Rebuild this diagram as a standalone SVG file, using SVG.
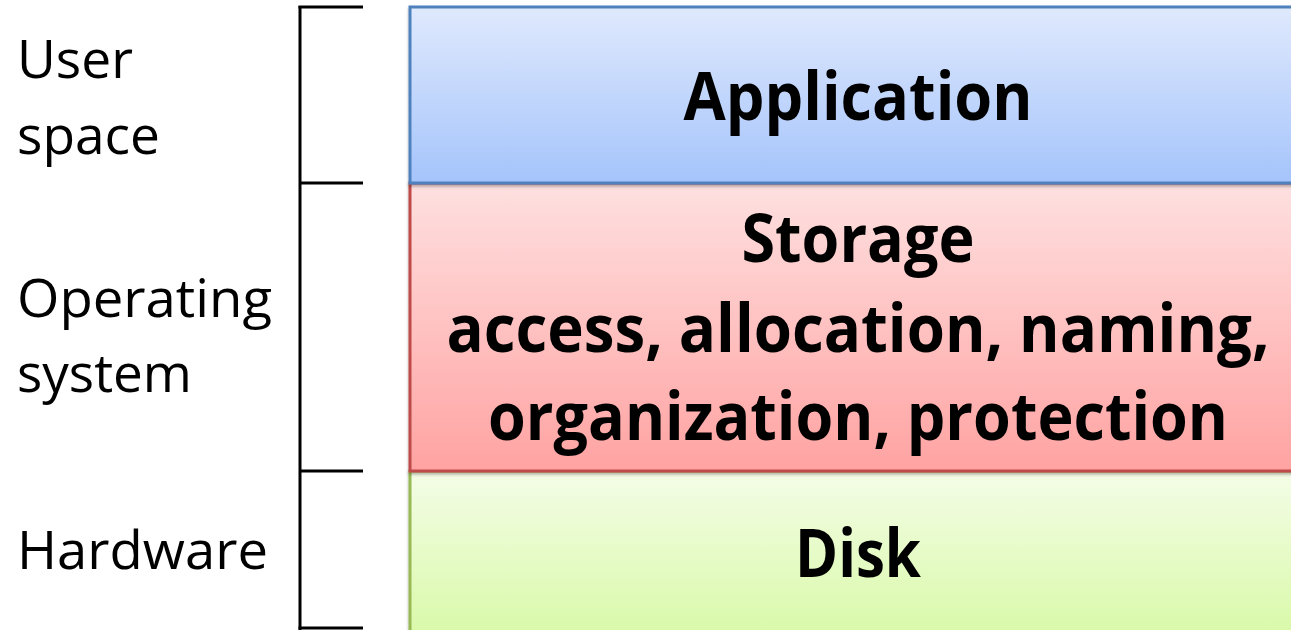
<svg xmlns="http://www.w3.org/2000/svg" width="1291" height="630" viewBox="0 0 1291 630">
  <style>
    .side { font-family: "Open Sans", "Noto Sans", sans-serif; font-size: 53px; fill: #000; }
    .title { font-family: "Open Sans", "Noto Sans", sans-serif; font-weight: bold; font-size: 66px; fill: #000; text-anchor: middle; }
    .bracket { stroke: #000; stroke-width: 3; fill: none; }
    .layer { stroke-width: 3; }
  </style>
  <defs>
    <linearGradient id="gBlue" x1="0" y1="0" x2="0" y2="1">
      <stop offset="0" stop-color="#dfe9fd"/>
      <stop offset="1" stop-color="#a5c4fb"/>
    </linearGradient>
    <linearGradient id="gRed" x1="0" y1="0" x2="0" y2="1">
      <stop offset="0" stop-color="#fee0e0"/>
      <stop offset="1" stop-color="#ffa3a2"/>
    </linearGradient>
    <linearGradient id="gGreen" x1="0" y1="0" x2="0" y2="1">
      <stop offset="0" stop-color="#f4fde7"/>
      <stop offset="1" stop-color="#d8f9a6"/>
    </linearGradient>
    <filter id="shadow" x="-5%" y="-5%" width="110%" height="115%">
      <feDropShadow dx="0" dy="2" stdDeviation="1.5" flood-color="#000" flood-opacity="0.3"/>
    </filter>
  </defs>

  <!-- side labels -->
  <g id="label-user">
    <text class="side" x="17" y="78" textLength="116" lengthAdjust="spacingAndGlyphs">User</text>
    <text class="side" x="17" y="154" textLength="143" lengthAdjust="spacingAndGlyphs">space</text>
  </g>
  <g id="label-os">
    <text class="side" x="17" y="317" textLength="255" lengthAdjust="spacingAndGlyphs">Operating</text>
    <text class="side" x="17" y="392" textLength="175" lengthAdjust="spacingAndGlyphs">system</text>
  </g>
  <g id="label-hw">
    <text class="side" x="17" y="569" textLength="251" lengthAdjust="spacingAndGlyphs">Hardware</text>
  </g>

  <!-- bracket separating the levels -->
  <g id="connectors">
    <path class="bracket" d="M300,6 V630"/>
    <path class="bracket" d="M298.5,7 H363"/>
    <path class="bracket" d="M300,183 H363"/>
    <path class="bracket" d="M300,471 H363"/>
    <path class="bracket" d="M298.5,628 H363"/>
  </g>

  <!-- layer stack -->
  <g id="layer-disk">
    <rect class="layer" x="410" y="471" width="900" height="170" fill="url(#gGreen)" stroke="#98b954" filter="url(#shadow)"/>
    <text class="title" x="858" y="577" textLength="126" lengthAdjust="spacingAndGlyphs">Disk</text>
  </g>
  <g id="layer-storage">
    <rect class="layer" x="410" y="183" width="900" height="288" fill="url(#gRed)" stroke="#be4b48" filter="url(#shadow)"/>
    <text class="title" x="858" y="262" textLength="233" lengthAdjust="spacingAndGlyphs">Storage</text>
    <text class="title" x="858" y="352" textLength="823" lengthAdjust="spacingAndGlyphs">access, allocation, naming,</text>
    <text class="title" x="858" y="440" textLength="740" lengthAdjust="spacingAndGlyphs">organization, protection</text>
  </g>
  <g id="layer-application">
    <rect class="layer" x="410" y="7" width="900" height="176" fill="url(#gBlue)" stroke="#4f81bd" filter="url(#shadow)"/>
    <text class="title" x="858" y="120" textLength="349" lengthAdjust="spacingAndGlyphs">Application</text>
  </g>
</svg>
